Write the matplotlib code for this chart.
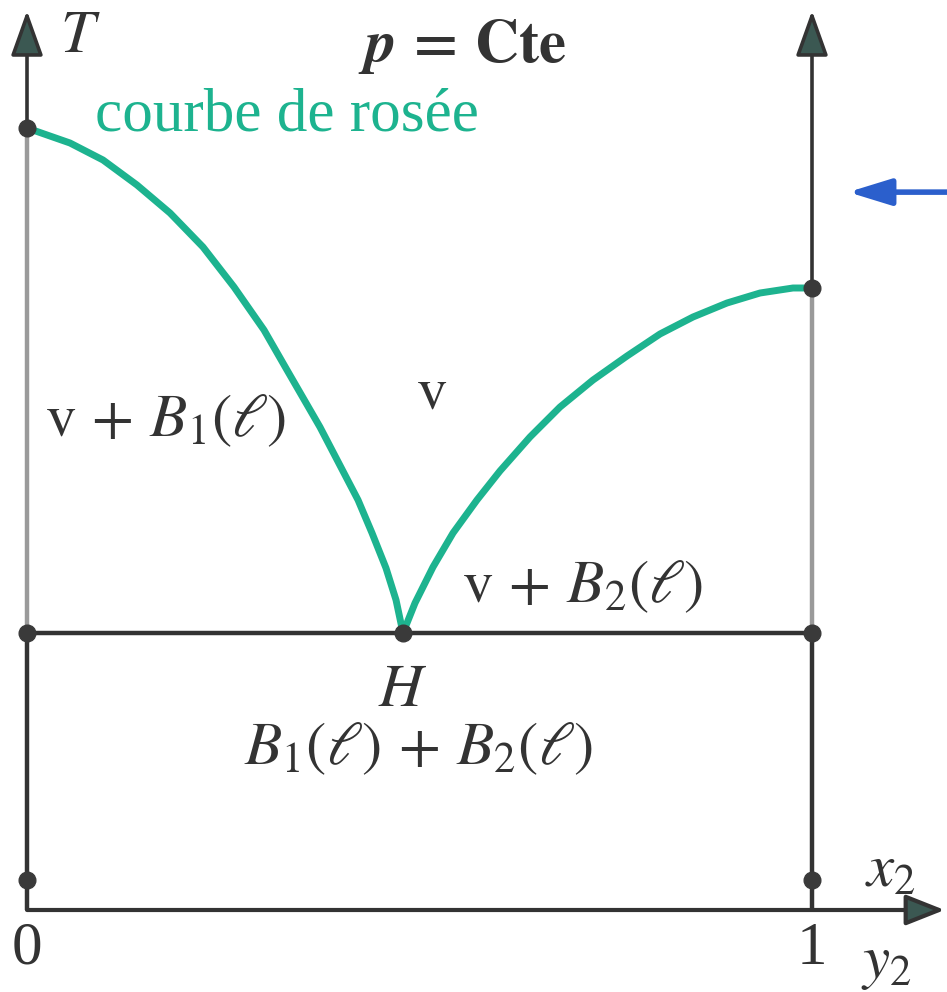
import matplotlib
matplotlib.use("Agg")
import matplotlib.pyplot as plt

plt.rcParams["mathtext.fontset"] = "stix"
plt.rcParams["font.family"] = ["Liberation Serif", "DejaVu Serif"]

# Boiling temperatures of the pure bodies and of the heteroazeotrope H (arbitrary units)
T1_pure = 100.0
T2_pure = 79.54
x_H = 0.479
T_H = 35.42

# Dew curve, branch in equilibrium with liquid B1 (y2 from 0 to H)
dew_left_y = [0.0, 0.0548, 0.0968, 0.1401, 0.1822, 0.2242, 0.2637, 0.3019,
              0.3312, 0.3732, 0.4217, 0.4395, 0.4573, 0.4701, 0.479]
dew_left_T = [100.0, 98.08, 95.91, 92.71, 89.13, 84.78, 79.67, 74.17,
              69.05, 61.76, 52.43, 48.21, 43.73, 39.64, 35.42]

# Dew curve, branch in equilibrium with liquid B2 (y2 from H to 1)
dew_right_y = [0.479, 0.4943, 0.5172, 0.5427, 0.5732, 0.6025, 0.6408, 0.6790,
               0.7210, 0.7643, 0.8064, 0.8484, 0.8917, 0.9338, 0.9758, 1.0]
dew_right_T = [35.42, 39.26, 43.86, 48.21, 52.43, 56.14, 60.49, 64.32,
               67.77, 70.84, 73.66, 75.83, 77.62, 78.90, 79.54, 79.54]

T_low = 3.8   # marks on the vertical axes near the bottom
T_top = 115.0 # end of the vertical arrows
x_end = 1.169 # end of the horizontal arrow

dark = "#333333"
grey = "#9a9a9a"
teal = "#1db38f"
head = "#3b5852"

fig = plt.figure(figsize=(9.47, 9.92), dpi=100)
ax = fig.add_axes([0, 0, 1, 1])
ax.set_xlim(-27 / 785, 920 / 785)
ax.set_ylim(-82 / 7.82, 910 / 7.82)
ax.axis("off")

axis_head = "-|>,head_length=2.8,head_width=1.0"

# vertical axes: dark below H and above the pure-body point, grey in between
for x0, Tp in [(0.0, T1_pure), (1.0, T2_pure)]:
    ax.plot([x0, x0], [0, T_H], color=dark, lw=3.2, solid_capstyle="butt", zorder=2)
    ax.plot([x0, x0], [T_H, Tp], color=grey, lw=3.2, solid_capstyle="butt", zorder=2)
    ax.annotate("", xy=(x0, T_top), xytext=(x0, Tp),
                arrowprops=dict(arrowstyle=axis_head, lw=2.6, fc=head, ec=dark,
                                shrinkA=0, shrinkB=0), zorder=2)

# horizontal axis
ax.annotate("", xy=(x_end, 0), xytext=(0, 0),
            arrowprops=dict(arrowstyle="-|>,head_length=2.4,head_width=0.95",
                            lw=3.0, fc=head, ec=dark, shrinkA=0, shrinkB=0),
            zorder=2)

# heteroazeotrope line
ax.plot([0, 1], [T_H, T_H], color=dark, lw=3.2, zorder=2)

# dew curve
for ys, Ts in [(dew_left_y, dew_left_T), (dew_right_y, dew_right_T)]:
    ax.plot(ys, Ts, color=teal, lw=5.0, solid_capstyle="round",
            solid_joinstyle="round", zorder=3)

# remarkable points
pts_x = [0, 0, x_H, 1, 1, 0, 1]
pts_T = [T1_pure, T_H, T_H, T2_pure, T_H, T_low, T_low]
ax.plot(pts_x, pts_T, "o", ms=12, color="#3a3a3a", zorder=4)

# pointer arrow on the right
ax.annotate("", xy=(1.046, 91.8), xytext=(1.175, 91.8),
            arrowprops=dict(arrowstyle="-|>,head_length=2.6,head_width=0.8",
                            color="#2b5fcc", lw=4.0, shrinkA=0, shrinkB=0))

fs = 44
ax.text(0.042, 111.6, r"$T$", fontsize=fs, color=dark, ha="left", va="center")
ax.text(0.555, 110.4, r"$\boldsymbol{p}\,\mathbf{=}\,\mathbf{Cte}$",
        fontsize=fs, color=dark, ha="center", va="center")
ax.text(0.087, 101.6, "courbe de rosée", fontsize=fs, color=teal,
        ha="left", va="center")
ax.text(0.023, 62.5, r"$\mathrm{v}\, +\, B_1(\ell)$", fontsize=fs, color=dark,
        ha="left", va="center")
ax.text(0.516, 66.0, r"$\mathrm{v}$", fontsize=fs, color=dark,
        ha="center", va="center")
ax.text(0.554, 41.3, r"$\mathrm{v}\, +\, B_2(\ell)$", fontsize=fs, color=dark,
        ha="left", va="center")
ax.text(x_H, 28.0, r"$H$", fontsize=fs, color=dark, ha="center", va="center")
ax.text(0.498, 20.6, r"$B_1(\ell)\, +\, B_2(\ell)$", fontsize=fs, color=dark,
        ha="center", va="center")
ax.text(0.0, -5.0, "0", fontsize=fs, color=dark, ha="center", va="center")
ax.text(1.0, -5.0, "1", fontsize=fs, color=dark, ha="center", va="center")
ax.text(1.095, -7.0, r"$y_2$", fontsize=fs, color=dark, ha="center", va="center")
ax.text(1.1, 4.8, r"$x_2$", fontsize=fs, color=dark, ha="center", va="center")

fig.savefig("out.png", dpi=100)
